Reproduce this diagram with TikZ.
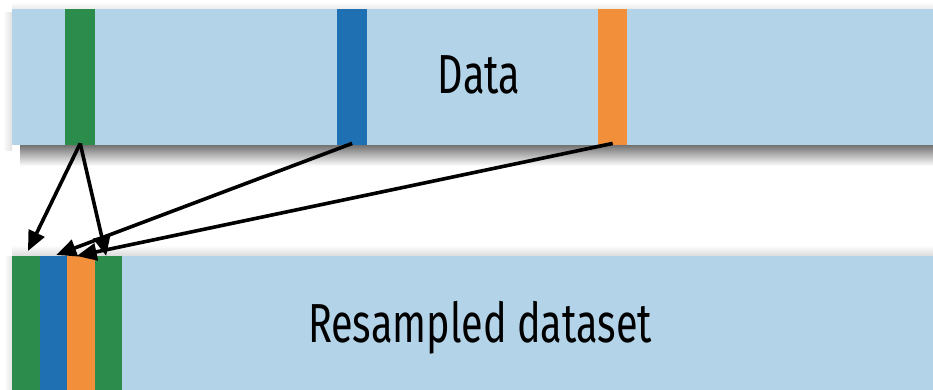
\documentclass[tikz,border=0pt]{standalone}
\usepackage{fontspec}
\setmainfont{Fira Sans}[FakeStretch=0.72]
\usetikzlibrary{arrows.meta}
\definecolor{barblue}{RGB}{179,211,232}
\definecolor{dgreen}{RGB}{43,140,75}
\definecolor{dblue}{RGB}{30,112,178}
\definecolor{dorange}{RGB}{241,143,58}
\tikzset{
  bar/.style={fill=barblue, draw=none, anchor=north west, inner sep=0pt,
    minimum width=940pt},
  stripe/.style={anchor=north west, inner sep=0pt, draw=none},
  pick/.style={-{Triangle[length=20pt,width=17pt]}, line width=3.6pt, black},
  caption/.style={font=\fontsize{55}{60}\selectfont, anchor=base, inner sep=0pt}
}
\begin{document}
\begin{tikzpicture}[x=1pt,y=-1pt]
\useasboundingbox (0,0) rectangle (933,389);
\clip (0,0) rectangle (933,389);

% soft shadows round the data strip
\shade[top color=black!55, bottom color=white] (20,145) rectangle (940,166);
\shade[left color=white, right color=black!12] (3,12) rectangle (12,150);
\shade[top color=white, bottom color=black!8] (12,2) rectangle (940,9);
% faint halo above the resampled strip
\shade[top color=white, bottom color=black!14] (12,245) rectangle (940,256);
\shade[left color=white, right color=black!10] (4,256) rectangle (12,389);

% original data strip
\node[bar, minimum height=136pt] (data) at (12,9) {};
\node[stripe, fill=dgreen,  minimum width=30pt, minimum height=136pt] (g1) at (65,9) {};
\node[stripe, fill=dblue,   minimum width=30pt, minimum height=136pt] (b1) at (337,9) {};
\node[stripe, fill=dorange, minimum width=29pt, minimum height=136pt] (o1) at (598,9) {};
\node[caption] (datalabel) at (479,93) {Data};

% resampled strip
\node[bar, minimum height=140pt] (resampled) at (12,256) {};
\node[stripe, fill=dgreen,  minimum width=27.5pt, minimum height=140pt] (r1) at (12,256) {};
\node[stripe, fill=dblue,   minimum width=27pt,   minimum height=140pt] (r2) at (39.5,256) {};
\node[stripe, fill=dorange, minimum width=28pt,   minimum height=140pt] (r3) at (66.5,256) {};
\node[stripe, fill=dgreen,  minimum width=27pt,   minimum height=140pt] (r4) at (94.5,256) {};
\node[caption] (reslabel) at (480,342) {Resampled dataset};

% draws with replacement
\draw[pick] ([yshift=2pt]g1.south) -- ([xshift=2pt,yshift=5pt]r1.north);
\draw[pick] ([yshift=2pt]g1.south) -- ([xshift=-2pt,yshift=0pt]r4.north);
\draw[pick] ([yshift=2pt]b1.south) -- ([xshift=3pt,yshift=1pt]r2.north);
\draw[pick] ([yshift=2pt]o1.south) -- ([xshift=-4pt,yshift=0pt]r3.north);
\end{tikzpicture}
\end{document}
